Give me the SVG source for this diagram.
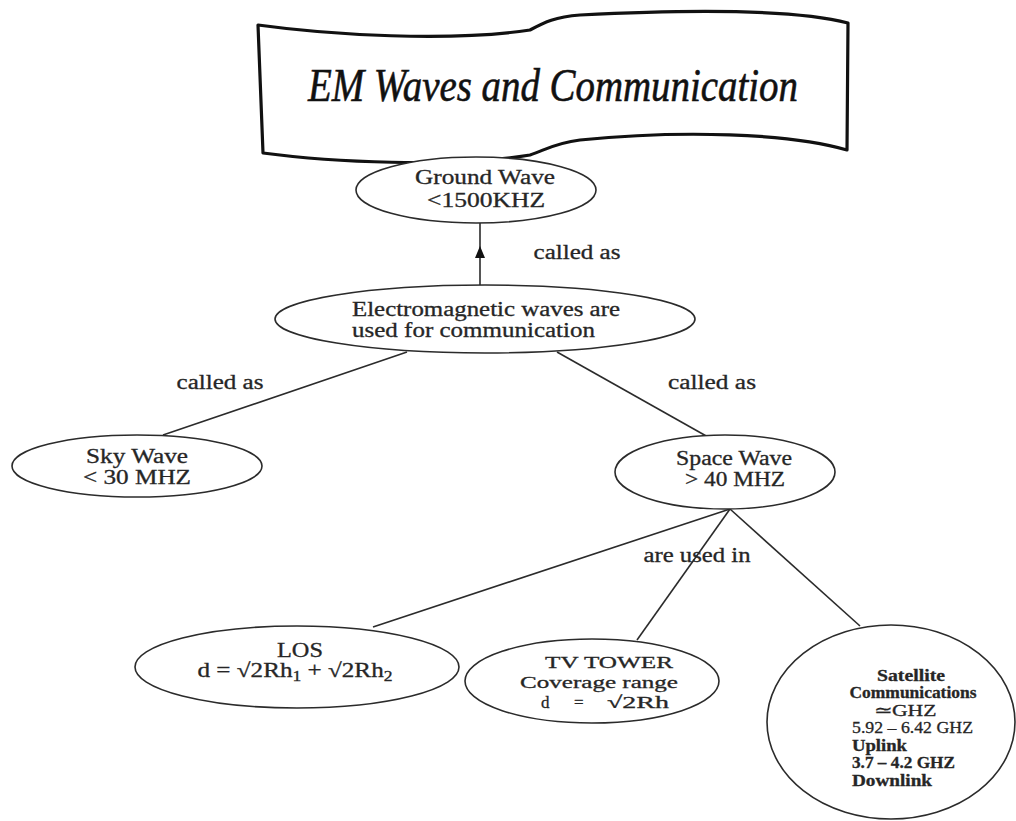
<svg xmlns="http://www.w3.org/2000/svg" width="1016" height="821" viewBox="0 0 1016 821">
<style>
  .bg{fill:#ffffff}
  .node ellipse{fill:#ffffff;stroke:#2b2b2b;stroke-width:1.6}
  .t{font-family:"Liberation Serif","Times New Roman",serif;font-size:20px;fill:#262626;stroke:#262626;stroke-width:0.3;text-anchor:middle}
  .s{text-anchor:start}
  .b{font-weight:bold}
  .sat{font-size:16.5px}
  .tv{font-size:17px}
  .conn line,.conn path{stroke:#2b2b2b;stroke-width:1.6;fill:none}
  .banner{fill:#ffffff;stroke:#111;stroke-width:3.2;stroke-linejoin:round}
  .title{font-family:"Liberation Serif","Times New Roman",serif;font-style:italic;font-size:46px;fill:#111;stroke:#111;stroke-width:0.6;text-anchor:middle}
</style>
<defs>
  <marker id="arr" viewBox="0 0 12 10" refX="6" refY="5" markerWidth="12" markerHeight="10" markerUnits="userSpaceOnUse" orient="auto">
    <path d="M0,0 L12,5 L0,10 Z" fill="#111"/>
  </marker>
</defs>
<rect class="bg" x="0" y="0" width="1016" height="821"/>

<g id="title-banner">
  <path class="banner" d="M258,25 C330,35 450,42 530,30 C545,22 555,17 580,15 C680,10 790,8 848,23 L847,150 C790,133 680,130 580,140 C555,143 545,150 530,155 C450,168 330,162 263,153 Z"/>
  <text class="title" x="553" y="101" textLength="490" lengthAdjust="spacingAndGlyphs">EM Waves and Communication</text>
</g>

<g id="connectors" class="conn">
  <path d="M480,285 V252 V223" marker-mid="url(#arr)"/>
  <line x1="407" y1="352" x2="163" y2="435"/>
  <line x1="557" y1="352" x2="708" y2="437"/>
  <line x1="730" y1="509" x2="373" y2="627"/>
  <line x1="730" y1="509" x2="637" y2="640"/>
  <line x1="730" y1="509" x2="860" y2="626"/>
</g>

<g id="labels">
  <text class="t" x="577" y="259" textLength="87" lengthAdjust="spacingAndGlyphs">called as</text>
  <text class="t" x="220" y="389" textLength="87" lengthAdjust="spacingAndGlyphs">called as</text>
  <text class="t" x="712" y="389" textLength="88" lengthAdjust="spacingAndGlyphs">called as</text>
  <text class="t" x="697" y="562" textLength="107" lengthAdjust="spacingAndGlyphs">are used in</text>
</g>

<g id="node-ground" class="node">
  <ellipse cx="476" cy="190" rx="120" ry="33"/>
  <text class="t" x="485" y="184" textLength="140" lengthAdjust="spacingAndGlyphs">Ground Wave</text>
  <text class="t" x="486" y="207" textLength="118" lengthAdjust="spacingAndGlyphs">&lt;1500KHZ</text>
</g>

<g id="node-em" class="node">
  <ellipse cx="485" cy="319" rx="210" ry="34"/>
  <text class="t s" x="352" y="316" textLength="268" lengthAdjust="spacingAndGlyphs">Electromagnetic waves are</text>
  <text class="t s" x="352" y="337" textLength="243" lengthAdjust="spacingAndGlyphs">used for communication</text>
</g>

<g id="node-sky" class="node">
  <ellipse cx="137" cy="466" rx="125" ry="31"/>
  <text class="t" x="137" y="463" textLength="102" lengthAdjust="spacingAndGlyphs">Sky Wave</text>
  <text class="t" x="137" y="484" textLength="108" lengthAdjust="spacingAndGlyphs">&lt; 30 MHZ</text>
</g>

<g id="node-space" class="node">
  <ellipse cx="725" cy="472" rx="110" ry="37"/>
  <text class="t" x="734" y="465" textLength="116" lengthAdjust="spacingAndGlyphs">Space Wave</text>
  <text class="t" x="735" y="486" textLength="100" lengthAdjust="spacingAndGlyphs">&gt; 40 MHZ</text>
</g>

<g id="node-los" class="node">
  <ellipse cx="297" cy="667" rx="162" ry="41"/>
  <text class="t" x="300" y="657" textLength="46" lengthAdjust="spacingAndGlyphs">LOS</text>
  <text class="t" x="295" y="677" textLength="195" lengthAdjust="spacingAndGlyphs">d = √2Rh<tspan font-size="14" dy="4">1</tspan><tspan dy="-4"> + √2Rh</tspan><tspan font-size="14" dy="4">2</tspan></text>
</g>

<g id="node-tv" class="node">
  <ellipse cx="592" cy="681" rx="127" ry="42"/>
  <text class="t tv" x="609" y="668" textLength="128" lengthAdjust="spacingAndGlyphs">TV TOWER</text>
  <text class="t tv" x="599" y="688" textLength="158" lengthAdjust="spacingAndGlyphs">Coverage range</text>
  <text class="t tv s" x="541" y="708">d</text>
  <text class="t tv s" x="574" y="708">=</text>
  <text class="t tv s" x="607" y="708" textLength="62" lengthAdjust="spacingAndGlyphs">√2Rh</text>
</g>

<g id="node-sat" class="node">
  <ellipse cx="891" cy="722" rx="124" ry="97"/>
  <text class="t sat b" x="911" y="681" textLength="68" lengthAdjust="spacingAndGlyphs">Satellite</text>
  <text class="t sat b" x="913" y="698" textLength="127" lengthAdjust="spacingAndGlyphs">Communications</text>
  <text class="t sat" x="905" y="716" textLength="63" lengthAdjust="spacingAndGlyphs">≃GHZ</text>
  <text class="t sat s" x="852" y="733" textLength="121" lengthAdjust="spacingAndGlyphs">5.92 – 6.42 GHZ</text>
  <text class="t sat s b" x="852" y="751" textLength="55" lengthAdjust="spacingAndGlyphs">Uplink</text>
  <text class="t sat s b" x="852" y="768" textLength="103" lengthAdjust="spacingAndGlyphs">3.7 – 4.2 GHZ</text>
  <text class="t sat s b" x="852" y="786" textLength="80" lengthAdjust="spacingAndGlyphs">Downlink</text>
</g>
</svg>
